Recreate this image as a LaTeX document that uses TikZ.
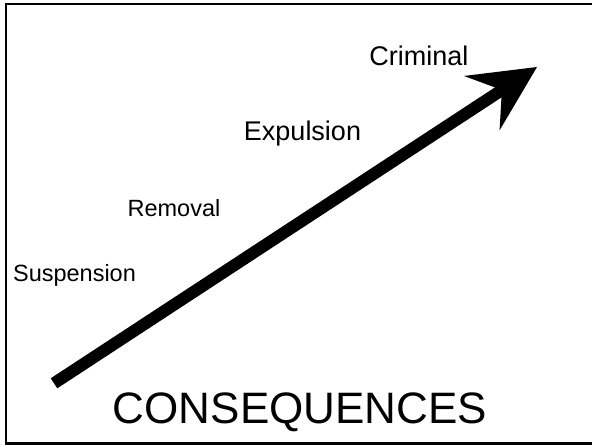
\documentclass[tikz,border=0pt]{standalone}
\usepackage{fontspec}
\setmainfont{Liberation Sans}
\usetikzlibrary{arrows.meta}

\tikzset{
  step label/.style={anchor=base, inner sep=0pt, font=\fontsize{#1}{#1}\selectfont},
  rise arrow/.style={line width=12pt, -{Stealth[length=66pt, width=65pt, inset=24pt, line width=0pt]}}
}

\begin{document}
\begin{tikzpicture}[
        x=1pt, y=-1pt,
        line join=miter
      ]
        % page size and outer frame (right side runs off the page)
        \useasboundingbox (0,0) rectangle (592,445);
        \draw[line width=2.5pt] (620,4) -- (6,4) -- (6,443.5) -- (620,443.5);

        % rising arrow
        \coordinate (tail) at (54,383.3);
        \coordinate (tip) at (537,67);
        \draw[rise arrow] (tail) -- (tip);

        % steps along the arrow
        \node[step label=23.5] (suspension) at (74.5,281) {Suspension};
        \node[step label=23.5] (removal) at (174,216) {Removal};
        \node[step label=27] (expulsion) at (302.5,140) {Expulsion};
        \node[step label=27] (criminal) at (419,65) {Criminal};

        % title
        \node[step label=44] (title) at (300,423) {CONSEQUENCES};
      \end{tikzpicture}
\end{document}
